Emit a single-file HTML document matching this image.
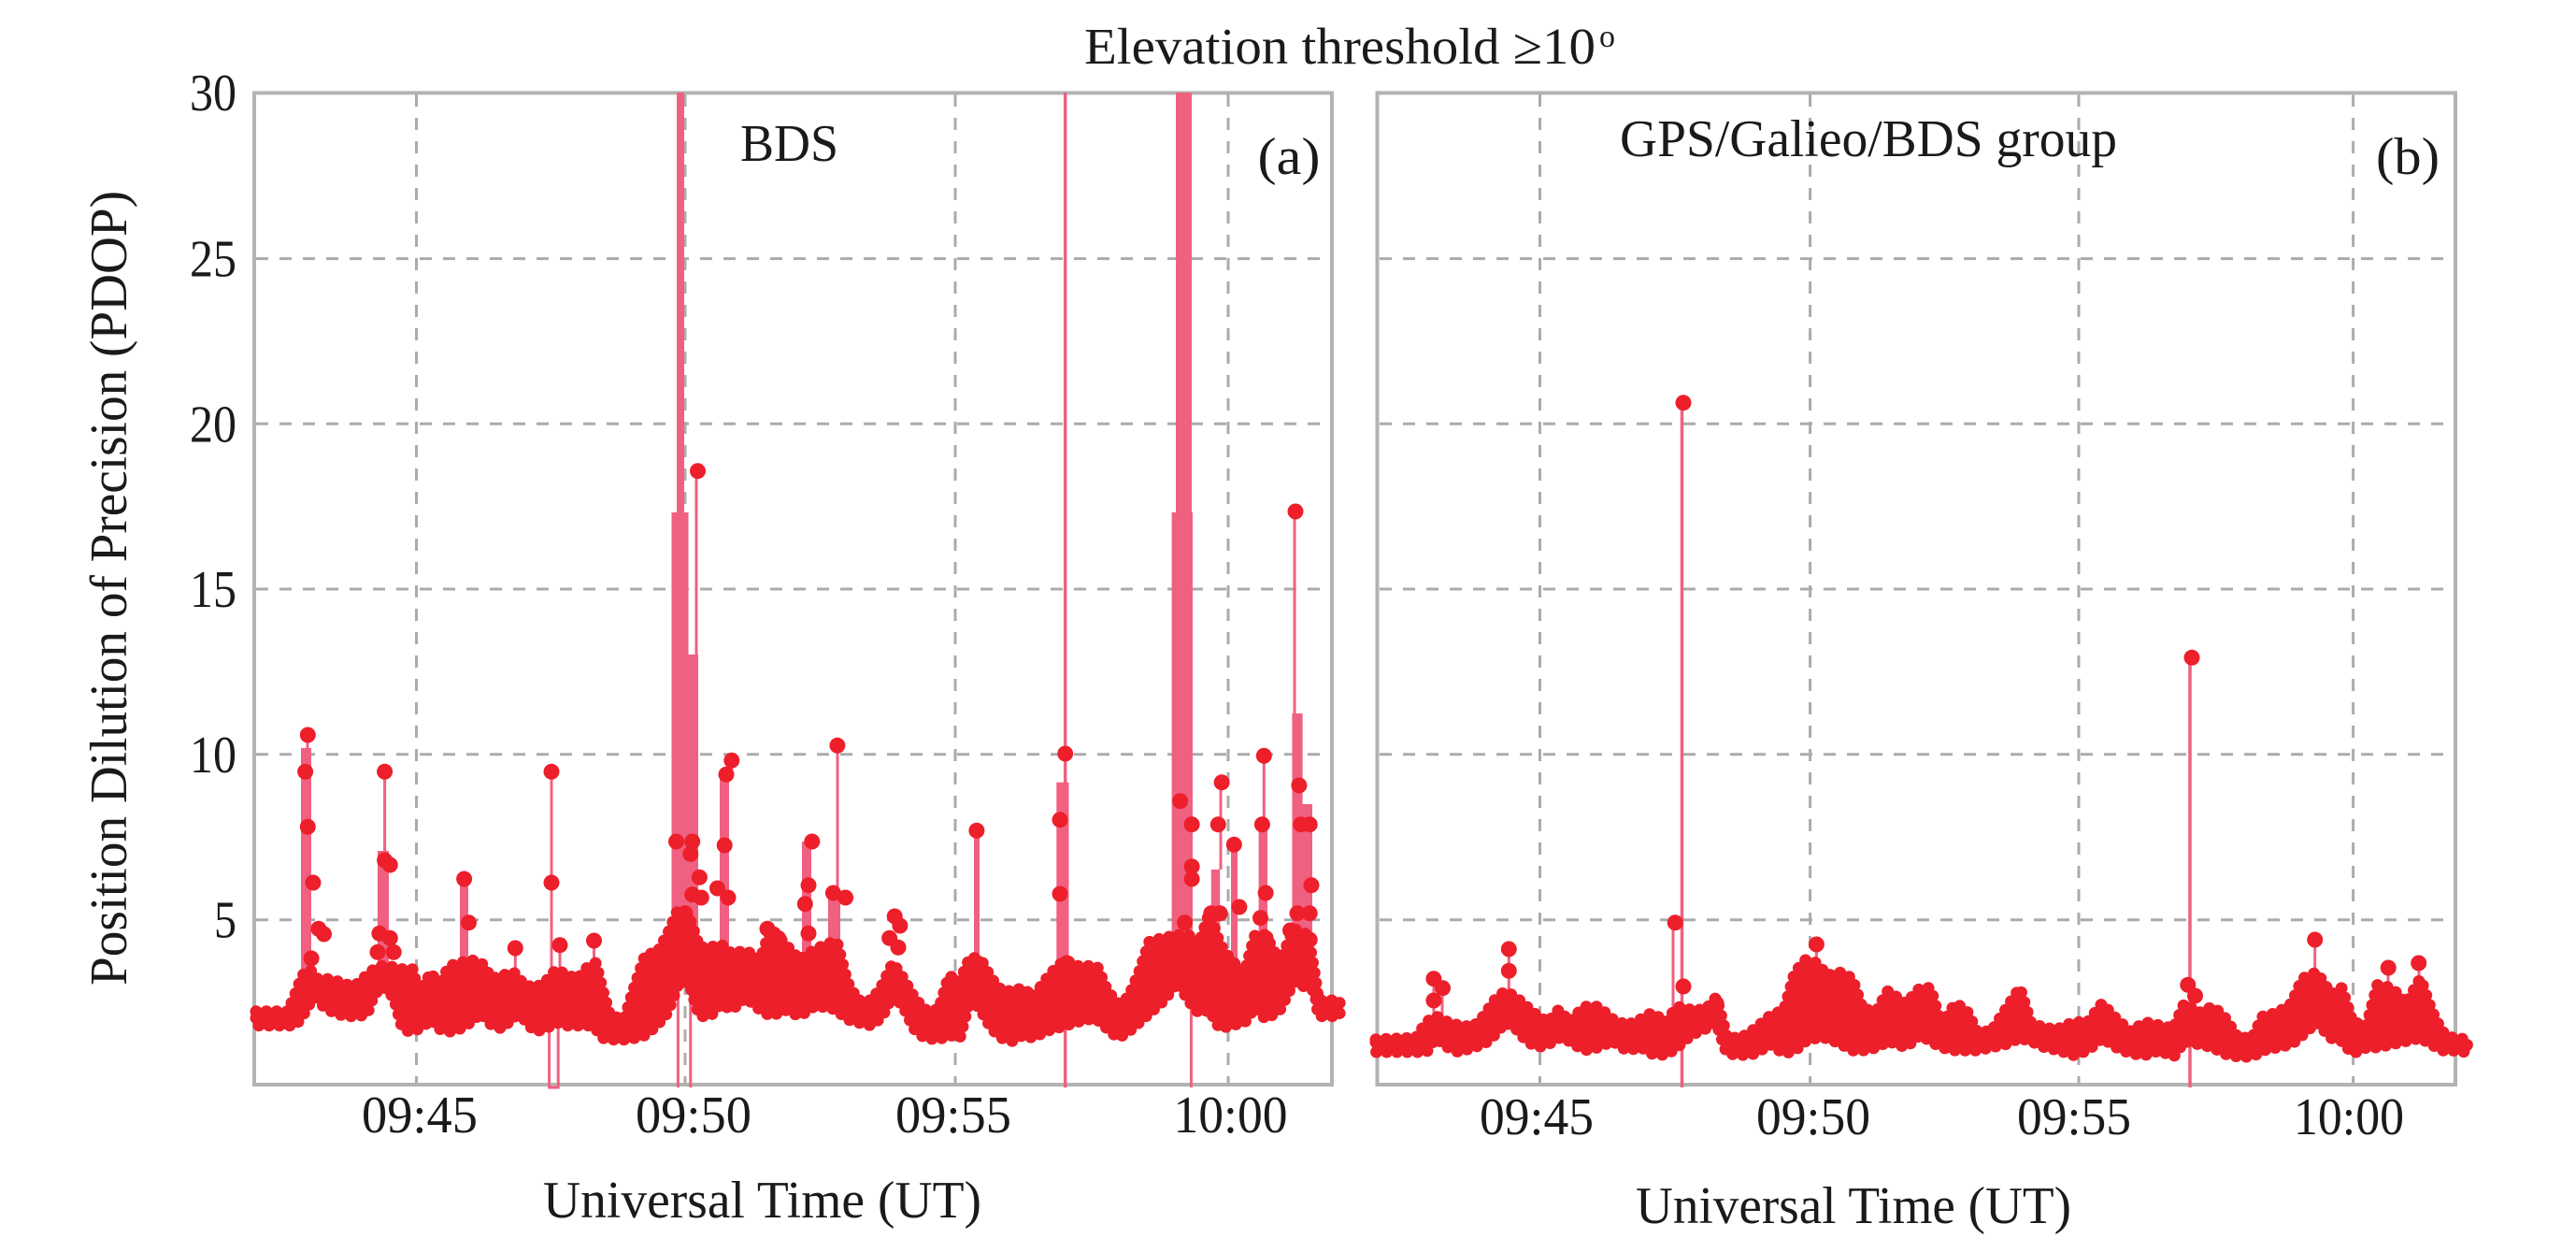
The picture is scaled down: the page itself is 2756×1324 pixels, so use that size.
<!DOCTYPE html>
<html>
<head>
<meta charset="utf-8">
<style>
html,body{margin:0;padding:0;background:#fff;}
svg{display:block;}
text{font-family:"Liberation Serif","Times New Roman",serif;fill:#1a1a1a;}
</style>
</head>
<body>
<svg width="2756" height="1324" viewBox="0 0 2756 1324" xmlns="http://www.w3.org/2000/svg">
<rect x="0" y="0" width="2756" height="1324" fill="#fff"/>

<!-- Title -->
<text x="1160" y="68" font-size="55" textLength="547" lengthAdjust="spacingAndGlyphs">Elevation threshold ≥10</text>
<text x="1711" y="50" font-size="34">o</text>

<!-- Gridlines panel a -->
<g stroke="#ababab" stroke-width="3" stroke-dasharray="13,12" fill="none">
  <line x1="274" y1="276.6" x2="1423" y2="276.6"/>
  <line x1="274" y1="453.3" x2="1423" y2="453.3"/>
  <line x1="274" y1="630" x2="1423" y2="630"/>
  <line x1="274" y1="806.8" x2="1423" y2="806.8"/>
  <line x1="274" y1="983.7" x2="1423" y2="983.7"/>
  <line x1="445.5" y1="101" x2="445.5" y2="1158"/>
  <line x1="733" y1="101" x2="733" y2="1158"/>
  <line x1="1022" y1="101" x2="1022" y2="1158"/>
  <line x1="1314" y1="101" x2="1314" y2="1158"/>
</g>
<!-- Gridlines panel b -->
<g stroke="#ababab" stroke-width="3" stroke-dasharray="13,12" fill="none">
  <line x1="1476" y1="276.6" x2="2625" y2="276.6"/>
  <line x1="1476" y1="453.3" x2="2625" y2="453.3"/>
  <line x1="1476" y1="630" x2="2625" y2="630"/>
  <line x1="1476" y1="806.8" x2="2625" y2="806.8"/>
  <line x1="1476" y1="983.7" x2="2625" y2="983.7"/>
  <line x1="1647.5" y1="101" x2="1647.5" y2="1158"/>
  <line x1="1936.6" y1="101" x2="1936.6" y2="1158"/>
  <line x1="2224" y1="101" x2="2224" y2="1158"/>
  <line x1="2517.6" y1="101" x2="2517.6" y2="1158"/>
</g>

<!-- Frames -->
<rect x="272" y="99.4" width="1153" height="1060.6" fill="none" stroke="#b3b3b3" stroke-width="4"/>
<rect x="1473.5" y="99.4" width="1153.5" height="1060.6" fill="none" stroke="#b3b3b3" stroke-width="4"/>

<!-- Panel a pink lines/bars -->
<g fill="#f06080" stroke="none">
  <rect x="322" y="800" width="11" height="240"/>
  <rect x="404" y="910" width="12" height="120"/>
  <rect x="492" y="940" width="9" height="90"/>
  <rect x="724" y="99" width="8" height="449"/>
  <rect x="718.5" y="548" width="18" height="452"/>
  <rect x="736" y="700" width="11" height="290"/>
  <rect x="770" y="828" width="10" height="190"/>
  <rect x="858" y="900" width="10" height="120"/>
  <rect x="886" y="955" width="13" height="55"/>
  <rect x="1042" y="888" width="6" height="142"/>
  <rect x="1130.3" y="836.7" width="13.2" height="203"/>
  <rect x="1258" y="99" width="17" height="449"/>
  <rect x="1253.6" y="548" width="22.4" height="452"/>
  <rect x="1295.8" y="930" width="9.4" height="110"/>
  <rect x="1317" y="903" width="7" height="127"/>
  <rect x="1346.6" y="882" width="9.4" height="148"/>
  <rect x="1382.4" y="763" width="11.2" height="237"/>
  <rect x="1393" y="860" width="11" height="140"/>
</g>
<g stroke="#f06080" stroke-width="3" fill="none">
  <line x1="329" y1="786" x2="329" y2="800"/>
  <line x1="411.6" y1="825" x2="411.6" y2="910"/>
  <line x1="496.6" y1="940" x2="496.6" y2="1000"/>
  <line x1="551.3" y1="1014" x2="551.3" y2="1050"/>
  <line x1="590" y1="825" x2="590" y2="1095"/>
  <path d="M587.6,1090 V1163 H597.2 V1090"/>
  <line x1="599" y1="1010" x2="599" y2="1050"/>
  <line x1="635.5" y1="1006" x2="635.5" y2="1040"/>
  <line x1="745" y1="504" x2="745" y2="1000"/>
  <line x1="725.4" y1="1040" x2="725.4" y2="1163"/>
  <line x1="738.8" y1="1040" x2="738.8" y2="1163"/>
  <line x1="782.8" y1="813" x2="782.8" y2="830"/>
  <line x1="896" y1="797" x2="896" y2="967"/>
  <line x1="1139.7" y1="99" x2="1139.7" y2="1163" stroke-width="3.5"/>
  <line x1="1274.4" y1="1000" x2="1274.4" y2="1163"/>
  <line x1="1306" y1="837" x2="1306" y2="930"/>
  <line x1="1352.3" y1="808" x2="1352.3" y2="882"/>
  <line x1="1385" y1="547" x2="1385" y2="765"/>
</g>

<!-- Panel b pink lines -->
<g stroke="#f06080" stroke-width="3" fill="none">
  <line x1="1534" y1="1046" x2="1534" y2="1090"/>
  <line x1="1543" y1="1056" x2="1543" y2="1090"/>
  <line x1="1614.3" y1="1015" x2="1614.3" y2="1070"/>
  <line x1="1799.5" y1="431" x2="1799.5" y2="1163" stroke-width="3.5"/>
  <line x1="1790" y1="987" x2="1790" y2="1090"/>
  <line x1="1943.4" y1="1010" x2="1943.4" y2="1040"/>
  <line x1="2343" y1="703" x2="2343" y2="1163" stroke-width="3.5"/>
  <line x1="2476.7" y1="1005" x2="2476.7" y2="1045"/>
  <line x1="2555" y1="1035" x2="2555" y2="1060"/>
  <line x1="2588" y1="1030" x2="2588" y2="1050"/>
</g>

<!-- Panel a band -->
<polygon fill="#ec1f2b" stroke="#ec1f2b" stroke-width="13" stroke-dasharray="0 11" stroke-linecap="round" stroke-linejoin="round" points="
274,1081.7 308.3,1081.7 315.9,1063.3 323.6,1043.3 331.2,1036.7 338.9,1046.7 346.5,1046.7 358,1048.3 369.5,1053.3 381,1053.3 392.5,1043.3 400.1,1036.7 407.8,1033.3 415.4,1033.3 423.1,1035 430.7,1036.7 438.4,1036.7 442.2,1036.7 446,1060 453.7,1053.3 461.4,1040 469,1056.7 480.5,1033.3 492,1030 503.4,1026.7 514.9,1030 526.4,1046.7 537.9,1043.3 549.4,1040 560.9,1053.3 572.3,1056.7 583.8,1050 595.3,1036.7 606.8,1043.3 618.3,1046.7 629.7,1033.3 637.4,1030 645,1060 652.7,1086.7 668,1090 679.5,1053.3 691,1020 702.5,1020 713.9,1000 725.4,973.3 736.9,980 748.4,1013.3 759.9,1013.3 771.3,1010 782.8,1020 798.1,1016.7 813.4,1026.7 824.9,993.3 840.2,1010 855.5,1026.7 870.1,1016.7 883.9,1010 895.1,1006.7 906.4,1050 917.7,1070 932.8,1070 944.1,1053.3 955.3,1030 966.6,1046.7 977.9,1066.7 989.2,1080 1004.3,1080 1015.5,1043.3 1026.8,1050 1038.1,1023.3 1049.4,1026.7 1060.7,1046.7 1072,1060 1083.3,1060 1094.5,1056.7 1105.8,1066.7 1117.1,1050 1128.4,1036.7 1139.7,1026.7 1151,1033.3 1162.3,1033.3 1173.5,1033.3 1184.8,1060 1196.1,1073.3 1207.4,1066.7 1218.7,1040 1230,1006.7 1245,1003.3 1260.1,1000 1271.4,1000 1282.7,1010 1294,976.7 1305.2,1010 1316.5,1026.7 1331.6,1040 1342.9,1000 1354.1,1000 1369.2,1030 1384.2,993.3 1399.3,1000 1406.8,1043.3 1410.6,1070 1433.1,1070
1433.1,1086.7 1410.6,1086.7 1406.8,1060 1399.3,1056.7 1384.2,1050 1369.2,1080 1354.1,1090 1342.9,1076.7 1331.6,1093.3 1316.5,1096.7 1305.2,1100 1294,1080 1282.7,1083.3 1271.4,1070 1260.1,1050 1245,1070 1230,1083.3 1218.7,1093.3 1207.4,1103.3 1196.1,1110 1184.8,1100 1173.5,1090 1162.3,1090 1151,1093.3 1139.7,1096.7 1128.4,1100 1117.1,1103.3 1105.8,1110 1094.5,1106.7 1083.3,1113.3 1072,1110 1060.7,1100 1049.4,1080 1038.1,1066.7 1026.8,1110 1015.5,1106.7 1004.3,1111.7 989.2,1110 977.9,1100 966.6,1076.7 955.3,1063.3 944.1,1086.7 932.8,1096.7 917.7,1093.3 906.4,1090 895.1,1080 883.9,1076.7 870.1,1076.7 855.5,1086.7 840.2,1080 824.9,1086.7 813.4,1080 798.1,1066.7 782.8,1080 771.3,1073.3 759.9,1086.7 748.4,1086.7 736.9,1050 725.4,1053.3 713.9,1083.3 702.5,1096.7 691,1106.7 679.5,1110 668,1111.7 652.7,1111.7 645,1110 637.4,1100 629.7,1096.7 618.3,1096.7 606.8,1096.7 595.3,1093.3 583.8,1100 572.3,1103.3 560.9,1090 549.4,1086.7 537.9,1100 526.4,1096.7 514.9,1083.3 503.4,1093.3 492,1100 480.5,1103.3 469,1100 461.4,1090 453.7,1096.7 442.2,1103.3 438.4,1103.3 430.7,1100 423.1,1073 415.4,1056.7 407.8,1056.7 400.1,1063.3 392.5,1085 381,1086.7 369.5,1086.7 358,1083.3 346.5,1076.7 338.9,1066.7 331.2,1073.3 323.6,1086.7 315.9,1096.7 308.3,1096.7 274,1096.7"/>

<!-- Panel b band -->
<polygon fill="#ec1f2b" stroke="#ec1f2b" stroke-width="13" stroke-dasharray="0 11" stroke-linecap="round" stroke-linejoin="round" points="
1472,1111.7 1514.8,1110 1526.2,1093.3 1535.8,1086.7 1549.2,1093.3 1560.7,1096.7 1576,1098.3 1587.5,1086.7 1599,1070 1610.4,1060 1621.9,1066.7 1633.4,1076.7 1644.9,1086.7 1656.4,1093.3 1667.8,1080 1679.3,1093.3 1694.6,1076.7 1709.9,1076.7 1725.2,1090 1740.5,1096.7 1755.9,1090 1767.3,1083.3 1782.6,1093.3 1794.1,1076.7 1809.4,1080 1824.7,1080 1836.2,1066.7 1847.7,1110 1863,1110 1878.3,1100 1893.6,1086.7 1908.9,1080 1920.4,1040 1931.9,1026.7 1943.4,1030 1954.9,1043.3 1970.2,1040 1981.6,1046.7 1993.1,1080 2008.4,1080 2019.9,1060 2039,1073.3 2054.4,1056.7 2065.3,1056.7 2076.8,1096.7 2092.1,1073.3 2103.6,1080 2115.1,1103.3 2130.4,1103.3 2145.7,1080 2161,1056.7 2172.5,1093.3 2187.8,1100 2203.1,1100 2218.4,1093.3 2233.7,1093.3 2249,1073.3 2264.3,1090 2279.6,1103.3 2294.9,1093.3 2310.2,1096.7 2325.5,1100 2337,1073.3 2352.3,1083.3 2367.6,1076.7 2379.1,1086.7 2394.4,1110 2409.7,1110 2421.2,1086.7 2436.5,1083.3 2451.8,1073.3 2463.3,1046.7 2478.6,1040 2493.9,1063.3 2505.4,1056.7 2516.9,1093.3 2532.2,1096.7 2543.7,1053.3 2559,1056.7 2574.3,1073.3 2589.6,1046.7 2601.1,1080 2612.6,1103.3 2624,1110 2639.4,1111.7
2639.4,1125 2624,1123.3 2612.6,1123.3 2601.1,1116.7 2589.6,1110 2574.3,1113.3 2559,1116.7 2543.7,1120 2532.2,1120 2516.9,1126.7 2505.4,1113.3 2493.9,1110 2478.6,1093.3 2463.3,1106.7 2451.8,1116.7 2436.5,1120 2421.2,1123.3 2409.7,1130 2394.4,1130 2379.1,1126.7 2367.6,1120 2352.3,1116.7 2337,1113.3 2325.5,1130 2310.2,1123.3 2294.9,1128.3 2279.6,1126.7 2264.3,1120 2249,1110 2233.7,1123.3 2218.4,1128.3 2203.1,1123.3 2187.8,1120 2172.5,1113.3 2161,1110 2145.7,1116.7 2130.4,1120 2115.1,1123.3 2103.6,1123.3 2092.1,1123.3 2076.8,1120 2065.3,1113.3 2054.4,1106.7 2039,1120 2019.9,1113.3 2008.4,1120 1993.1,1123.3 1981.6,1123.3 1970.2,1116.7 1954.9,1110 1943.4,1110 1931.9,1113.3 1920.4,1123.3 1908.9,1126.7 1893.6,1116.7 1878.3,1126.7 1863,1128.3 1847.7,1126.7 1836.2,1093.3 1824.7,1100 1809.4,1106.7 1794.1,1120 1782.6,1128.3 1767.3,1126.7 1755.9,1120 1740.5,1123.3 1725.2,1113.3 1709.9,1120 1694.6,1123.3 1679.3,1113.3 1667.8,1110 1656.4,1116.7 1644.9,1120 1633.4,1113.3 1621.9,1100 1610.4,1093.3 1599,1106.7 1587.5,1116.7 1576,1120 1560.7,1125 1549.2,1120 1535.8,1110 1526.2,1125 1514.8,1125 1472,1125"/>

<!-- Markers -->
<g fill="#ec1f2b">
  <circle cx="329.3" cy="786" r="8.5"/><circle cx="326.6" cy="825.3" r="8.5"/><circle cx="329.3" cy="884.3" r="8.5"/><circle cx="335" cy="944" r="8.5"/><circle cx="340.8" cy="993.3" r="8.5"/><circle cx="346.5" cy="999" r="8.5"/><circle cx="333.1" cy="1025" r="8.5"/>
  <circle cx="411.6" cy="825.3" r="8.5"/><circle cx="411.6" cy="920" r="8.5"/><circle cx="417.3" cy="925" r="8.5"/><circle cx="405.9" cy="998.3" r="8.5"/><circle cx="417.3" cy="1003.3" r="8.5"/><circle cx="404" cy="1018.3" r="8.5"/><circle cx="421.2" cy="1018.3" r="8.5"/>
  <circle cx="496.6" cy="940" r="8.5"/><circle cx="501.5" cy="986.7" r="8.5"/>
  <circle cx="551.3" cy="1014" r="8.5"/>
  <circle cx="590" cy="825.3" r="8.5"/><circle cx="590" cy="944" r="8.5"/><circle cx="599" cy="1010.7" r="8.5"/>
  <circle cx="635.5" cy="1006" r="8.5"/>
  <circle cx="723.5" cy="900" r="8.5"/><circle cx="740.7" cy="900" r="8.5"/><circle cx="738.8" cy="913.3" r="8.5"/><circle cx="748.4" cy="938.3" r="8.5"/><circle cx="740.7" cy="956.7" r="8.5"/><circle cx="750.3" cy="960" r="8.5"/><circle cx="733" cy="976.7" r="8.5"/><circle cx="723.5" cy="1000" r="8.5"/><circle cx="746.5" cy="503.7" r="8.5"/>
  <circle cx="782.8" cy="813.3" r="8.5"/><circle cx="777" cy="828.3" r="8.5"/><circle cx="775.2" cy="904" r="8.5"/><circle cx="767.5" cy="950" r="8.5"/><circle cx="779" cy="960" r="8.5"/>
  <circle cx="821" cy="993.3" r="8.5"/><circle cx="832.6" cy="1003.3" r="8.5"/>
  <circle cx="868.8" cy="900" r="8.5"/><circle cx="865" cy="946.7" r="8.5"/><circle cx="861.3" cy="966.7" r="8.5"/><circle cx="865" cy="998.3" r="8.5"/>
  <circle cx="895.9" cy="797.3" r="8.5"/><circle cx="891.4" cy="955" r="8.5"/><circle cx="904.6" cy="960" r="8.5"/>
  <circle cx="957.2" cy="980" r="8.5"/><circle cx="951.6" cy="1003.3" r="8.5"/><circle cx="962.9" cy="990" r="8.5"/><circle cx="961" cy="1013.3" r="8.5"/>
  <circle cx="1044.9" cy="888.3" r="8.5"/><circle cx="1045.6" cy="1030" r="8.5"/>
  <circle cx="1139.7" cy="806" r="8.5"/><circle cx="1134" cy="876.7" r="8.5"/><circle cx="1134" cy="956" r="8.5"/><circle cx="1141.6" cy="1030" r="8.5"/>
  <circle cx="1262.7" cy="856.7" r="8.5"/><circle cx="1275.1" cy="881.7" r="8.5"/><circle cx="1275.1" cy="926.7" r="8.5"/><circle cx="1275.1" cy="940" r="8.5"/><circle cx="1267.6" cy="986.7" r="8.5"/>
  <circle cx="1307.1" cy="836.7" r="8.5"/><circle cx="1303.3" cy="881.7" r="8.5"/><circle cx="1295.8" cy="976.7" r="8.5"/><circle cx="1305.2" cy="976.7" r="8.5"/>
  <circle cx="1320.3" cy="903.3" r="8.5"/><circle cx="1325.9" cy="970" r="8.5"/>
  <circle cx="1352.3" cy="808.3" r="8.5"/><circle cx="1350.4" cy="881.7" r="8.5"/><circle cx="1354.1" cy="955" r="8.5"/><circle cx="1348.5" cy="981.7" r="8.5"/><circle cx="1354.1" cy="1003.3" r="8.5"/>
  <circle cx="1386" cy="547" r="8.5"/><circle cx="1389.9" cy="840" r="8.5"/><circle cx="1391.8" cy="881.7" r="8.5"/><circle cx="1401.2" cy="881.7" r="8.5"/><circle cx="1403" cy="946.7" r="8.5"/><circle cx="1388" cy="976.7" r="8.5"/><circle cx="1401.2" cy="976.7" r="8.5"/><circle cx="1380.5" cy="995" r="8.5"/><circle cx="1401.2" cy="1005" r="8.5"/>
  <!-- panel b -->
  <circle cx="1533.9" cy="1046.7" r="8.5"/><circle cx="1543.5" cy="1056.7" r="8.5"/><circle cx="1533.9" cy="1070" r="8.5"/>
  <circle cx="1614.3" cy="1015" r="8.5"/><circle cx="1614.3" cy="1038.3" r="8.5"/>
  <circle cx="1801" cy="430.7" r="8.5"/><circle cx="1792.2" cy="986.7" r="8.5"/><circle cx="1801" cy="1055" r="8.5"/>
  <circle cx="1943.4" cy="1010" r="8.5"/><circle cx="1836.2" cy="1073.3" r="8.5"/>
  <circle cx="2345" cy="703.3" r="8.5"/><circle cx="2340.8" cy="1053.3" r="8.5"/><circle cx="2348.5" cy="1065" r="8.5"/>
  <circle cx="2476.7" cy="1005" r="8.5"/><circle cx="2555.2" cy="1035" r="8.5"/><circle cx="2587.7" cy="1030" r="8.5"/>
</g>

<!-- Panel labels -->
<text x="792" y="172" font-size="56" textLength="105" lengthAdjust="spacingAndGlyphs">BDS</text>
<text x="1345.5" y="186" font-size="56" textLength="67" lengthAdjust="spacingAndGlyphs">(a)</text>
<text x="1733" y="167" font-size="56" textLength="532" lengthAdjust="spacingAndGlyphs">GPS/Galieo/BDS group</text>
<text x="2542" y="186" font-size="56" textLength="68" lengthAdjust="spacingAndGlyphs">(b)</text>

<!-- Y tick labels -->
<g font-size="56">
  <text x="203" y="118" textLength="50" lengthAdjust="spacingAndGlyphs">30</text>
  <text x="203" y="295.6" textLength="50" lengthAdjust="spacingAndGlyphs">25</text>
  <text x="203" y="472.3" textLength="50" lengthAdjust="spacingAndGlyphs">20</text>
  <text x="203" y="649" textLength="50" lengthAdjust="spacingAndGlyphs">15</text>
  <text x="203" y="825.8" textLength="50" lengthAdjust="spacingAndGlyphs">10</text>
  <text x="229" y="1002.7" textLength="24" lengthAdjust="spacingAndGlyphs">5</text>
</g>

<!-- X tick labels -->
<g font-size="56">
  <text x="387" y="1211" textLength="124" lengthAdjust="spacingAndGlyphs">09:45</text>
  <text x="680" y="1211" textLength="124" lengthAdjust="spacingAndGlyphs">09:50</text>
  <text x="958" y="1211" textLength="124" lengthAdjust="spacingAndGlyphs">09:55</text>
  <text x="1255.5" y="1211" textLength="122" lengthAdjust="spacingAndGlyphs">10:00</text>
  <text x="1583" y="1213" textLength="122" lengthAdjust="spacingAndGlyphs">09:45</text>
  <text x="1879" y="1213" textLength="122" lengthAdjust="spacingAndGlyphs">09:50</text>
  <text x="2158" y="1213" textLength="122" lengthAdjust="spacingAndGlyphs">09:55</text>
  <text x="2454" y="1213" textLength="118" lengthAdjust="spacingAndGlyphs">10:00</text>
</g>

<!-- Axis titles -->
<text x="581" y="1302" font-size="56" textLength="469" lengthAdjust="spacingAndGlyphs">Universal Time (UT)</text>
<text x="1750" y="1308" font-size="56" textLength="466" lengthAdjust="spacingAndGlyphs">Universal Time (UT)</text>
<text transform="translate(135,1054) rotate(-90)" x="0" y="0" font-size="56" textLength="850" lengthAdjust="spacingAndGlyphs">Position Dilution of Precision (PDOP)</text>
</svg>
</body>
</html>
